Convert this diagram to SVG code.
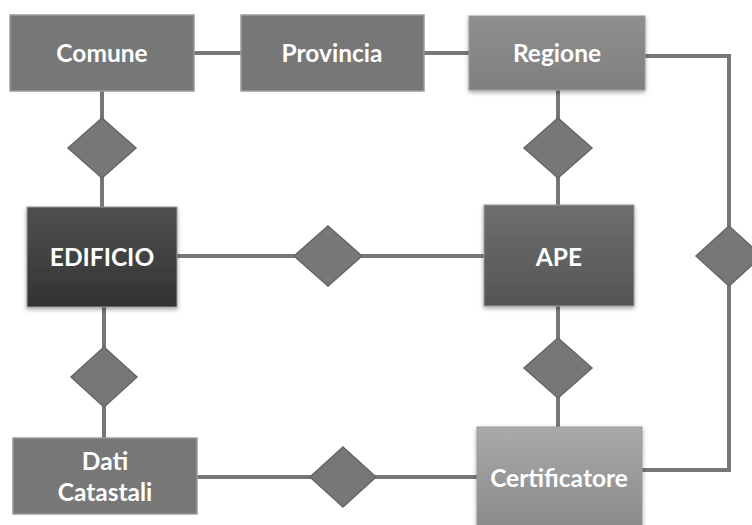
<svg xmlns="http://www.w3.org/2000/svg" width="752" height="525" viewBox="0 0 752 525">
<defs>
<linearGradient id="gDark" x1="0" y1="0" x2="0" y2="1"><stop offset="0" stop-color="#505050"/><stop offset="1" stop-color="#333"/></linearGradient>
<linearGradient id="gMid" x1="0" y1="0" x2="0" y2="1"><stop offset="0" stop-color="#6e6e6e"/><stop offset="1" stop-color="#555"/></linearGradient>
<linearGradient id="gLight" x1="0" y1="0" x2="0" y2="1"><stop offset="0" stop-color="#aaa"/><stop offset="1" stop-color="#888"/></linearGradient>
<linearGradient id="gReg" x1="0" y1="0" x2="0" y2="1"><stop offset="0" stop-color="#8e8e8e"/><stop offset="1" stop-color="#808080"/></linearGradient>
<filter id="sh" x="-10%" y="-10%" width="120%" height="130%"><feDropShadow dx="0" dy="2" stdDeviation="2" flood-color="#000" flood-opacity="0.35"/></filter>
</defs>
<style>
.flat{fill:#777;stroke:#9a9a9a;stroke-width:1.5}
.bev{filter:url(#sh);stroke:#999;stroke-width:1}
.dia{fill:#777;stroke:#666;stroke-width:1.5}
.ln{fill:none;stroke:#777;stroke-width:4}
text{font-family:Lato,"Open Sans","Liberation Sans",sans-serif;font-weight:bold;font-size:24.5px;fill:#fff;text-anchor:middle}
</style>
<rect width="752" height="525" fill="#fff"/>
<g id="connectors">
<path class="ln" d="M194 53H241M424 53H469"/>
<path class="ln" d="M645 56H729V470H642"/>
<path class="ln" d="M102 91V207M558 90V205M177 256H484M104 307V438M558 306V427M197 477H477"/>
</g>
<g id="r1"><polygon class="dia" points="102,118 136,148 102,178 68,148"/></g>
<g id="r2"><polygon class="dia" points="558,118 592,148 558,178 524,148"/></g>
<g id="r3"><polygon class="dia" points="328,226 362,256 328,286 294,256"/></g>
<g id="r4"><polygon class="dia" points="729,226 762,256 729,286 696,256"/></g>
<g id="r5"><polygon class="dia" points="558,338 592,368 558,398 524,368"/></g>
<g id="r6"><polygon class="dia" points="104,347 137,377 104,407 71,377"/></g>
<g id="r7"><polygon class="dia" points="343,447 376,477 343,507 310,477"/></g>
<g id="comune"><rect class="flat" x="10" y="15" width="184" height="76"/><text x="102" y="62">Comune</text></g>
<g id="provincia"><rect class="flat" x="241" y="15" width="183" height="76"/><text x="332" y="62">Provincia</text></g>
<g id="regione"><rect class="bev" x="469" y="16" width="176" height="74" fill="url(#gReg)"/><text x="557" y="62">Regione</text></g>
<g id="edificio"><rect class="bev" x="27" y="207" width="150" height="100" fill="url(#gDark)"/><text x="102" y="266">EDIFICIO</text></g>
<g id="ape"><rect class="bev" x="484" y="205" width="150" height="101" fill="url(#gMid)"/><text x="559" y="266">APE</text></g>
<g id="dati"><rect class="flat" x="13" y="438" width="184" height="76"/><text x="105" y="470">Dati</text><text x="105" y="501">Catastali</text></g>
<g id="certificatore"><rect class="bev" x="477" y="427" width="165" height="105" fill="url(#gLight)"/><text x="559" y="487">Certificatore</text></g>
</svg>
